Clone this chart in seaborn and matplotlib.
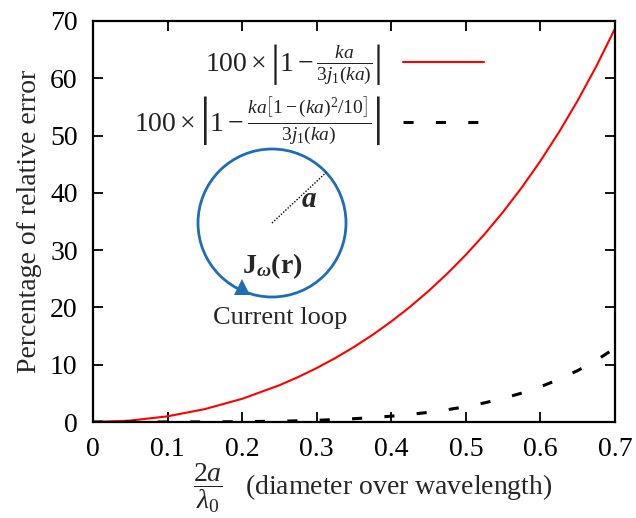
import numpy as np
import pandas as pd
import seaborn as sns
import matplotlib
matplotlib.use("Agg")
import matplotlib.pyplot as plt
from matplotlib.patches import Circle

# ---- data ----
x_ratio = [0.0, 0.05, 0.10, 0.15, 0.20, 0.25, 0.275, 0.30, 0.325, 0.35, 0.375, 0.40, 0.425,
           0.45, 0.475, 0.50, 0.525, 0.55, 0.575, 0.60, 0.625, 0.65, 0.675, 0.70]
err_full = [0.0, 0.247, 0.993, 2.253, 4.050, 6.42, 7.84, 9.42, 11.17, 13.10, 15.22, 17.55, 20.09,
            22.87, 25.90, 29.19, 32.78, 36.69, 40.94, 45.57, 50.62, 56.12, 62.12, 68.68]
err_corr = [0.0, 0.0002, 0.0035, 0.018, 0.058, 0.143, 0.212, 0.303, 0.423, 0.577, 0.773, 1.017, 1.319,
            1.689, 2.14, 2.684, 3.34, 4.119, 5.05, 6.149, 7.45, 8.981, 10.78, 12.89]
label_full = r"$100\times\left|1-\frac{ka}{3j_1(ka)}\right|$"
label_corr = r"$100\times\left|1-\frac{ka\left[1-(ka)^2/10\right]}{3j_1(ka)}\right|$"
x_ticks = [0, 0.1, 0.2, 0.3, 0.4, 0.5, 0.6, 0.7]
x_tick_labels = ["0", "0.1", "0.2", "0.3", "0.4", "0.5", "0.6", "0.7"]
y_ticks = [0, 10, 20, 30, 40, 50, 60, 70]

df_full = pd.DataFrame({"x": x_ratio, "y": err_full})
df_corr = pd.DataFrame({"x": x_ratio, "y": err_corr})

sns.set_theme(style="ticks")
plt.rcParams["font.family"] = ["Liberation Serif", "DejaVu Serif"]
plt.rcParams["mathtext.fontset"] = "custom"
plt.rcParams["mathtext.rm"] = "Liberation Serif"
plt.rcParams["mathtext.it"] = "Liberation Serif:italic"
plt.rcParams["mathtext.bf"] = "Liberation Serif:bold"
plt.rcParams["mathtext.bfit"] = "Liberation Serif:bold:italic"
plt.rcParams["mathtext.fallback"] = "cm"
plt.rcParams["font.size"] = 20

W, H = 636, 518
fig = plt.figure(figsize=(W / 100, H / 100), dpi=100)
L, R, T, B = 93, 615, 21, 422
ax = fig.add_axes([L / W, 1 - B / H, (R - L) / W, (B - T) / H])

sns.lineplot(data=df_full, x="x", y="y", ax=ax, color="#ff0000", linewidth=1.5,
             label=label_full)
sns.lineplot(data=df_corr, x="x", y="y", ax=ax, color="black", linewidth=2.2,
             label=label_corr)
ax.lines[1].set_dashes((3.3, 7.3))

ax.set_xlim(0, 0.7)
ax.set_ylim(0, 70)
ax.set_xticks(x_ticks)
ax.set_xticklabels(x_tick_labels)
ax.set_yticks(y_ticks)
ax.tick_params(direction="in", top=True, right=True, length=7, width=1.3,
               labelsize=20, pad=11, colors="black")
for s in ax.spines.values():
    s.set_linewidth(1.6)
    s.set_color("black")

ax.set_ylabel("Percentage of relative error", fontsize=20, labelpad=6)
ax.set_xlabel(r"$\dfrac{2a}{\lambda_0}$   (diameter over wavelength)", fontsize=20, labelpad=4)
ax.xaxis.set_label_coords(0.535, -0.098)

leg = ax.legend(loc="upper right", bbox_to_anchor=(0.77, 0.975), frameon=False,
                markerfirst=False, fontsize=20, handlelength=2.9, handletextpad=0.8,
                labelspacing=0.25, borderaxespad=0)
for t in leg.get_texts():
    t.set_color("#222222")

# ---- inset illustration: current loop ----
x0, x1, y0, y1 = 180, 380, 140, 340
iax = fig.add_axes([x0 / W, 1 - y1 / H, (x1 - x0) / W, (y1 - y0) / H])
iax.set_xlim(x0, x1)
iax.set_ylim(y1, y0)
iax.axis("off")
iax.patch.set_alpha(0)
blue = "#1f6db3"
cx, cy, r = 272, 223, 74
iax.add_patch(Circle((cx, cy), r, fill=False, edgecolor=blue, linewidth=2.0))
ang = np.deg2rad(43)
iax.plot([cx, cx + r * np.cos(ang)], [cy, cy - r * np.sin(ang)], color="black",
         linestyle=(0, (1, 1.2)), linewidth=1.0)
iax.text(309, 200, r"$\boldsymbol{a}$", fontsize=21, ha="center", va="center")
iax.text(272, 266, r"$\mathbf{J}_{\boldsymbol{\omega}}\mathbf{(r)}$", fontsize=20,
         ha="center", va="center")
iax.plot([242], [287], marker="^", markersize=12, color=blue, markeredgewidth=0, zorder=5)
iax.text(280, 318, "Current loop", fontsize=19, ha="center", va="center")

fig.savefig("out.png", dpi=100)
